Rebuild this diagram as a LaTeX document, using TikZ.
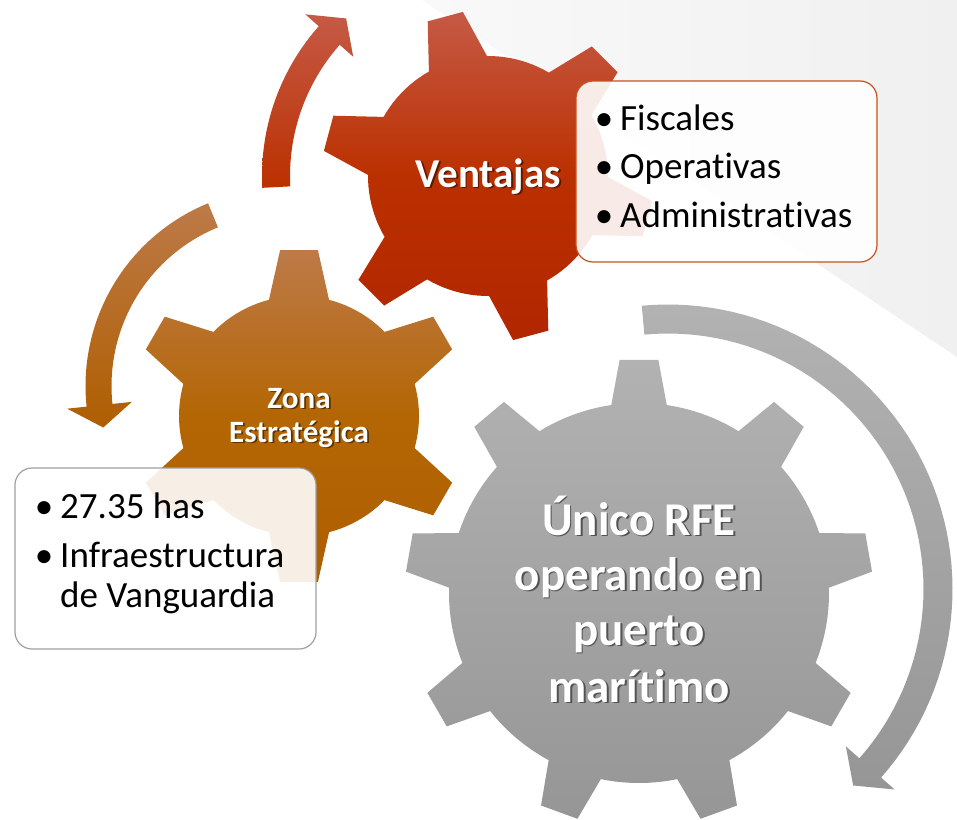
\documentclass[tikz,border=0pt]{standalone}
\usepackage{fontspec}
\setmainfont{Carlito}[Ligatures=NoCommon]
\definecolor{redtop}{RGB}{197,90,70}
\definecolor{redmid}{RGB}{187,48,0}
\definecolor{redbot}{RGB}{178,38,0}
\definecolor{ortop}{RGB}{189,122,72}
\definecolor{ormid}{RGB}{180,102,4}
\definecolor{orbot}{RGB}{175,94,0}
\definecolor{grtop}{RGB}{178,178,178}
\definecolor{grmid}{RGB}{164,164,164}
\definecolor{grbot}{RGB}{150,150,150}
\definecolor{boxred}{RGB}{200,80,30}
\definecolor{boxgray}{RGB}{160,160,160}
\definecolor{bgl}{RGB}{249,249,249}
\definecolor{bgr}{RGB}{240,240,240}
% gear outline: #1 teeth, #2 first tooth angle, #3 outer radius, #4 body radius, #5 tip half angle, #6 base half angle
\newcommand{\gearoutline}[6]{%
  ({#2-#6}:#4)
  \foreach \k in {1,...,#1} {
    -- ({#2+(\k-1)*360/#1-#5}:#3)
    -- ({#2+(\k-1)*360/#1+#5}:#3)
    -- ({#2+(\k-1)*360/#1+#6}:#4)
    -- plot[domain={#2+(\k-1)*360/#1+#6}:{#2+\k*360/#1-#6},samples=12] (\x:#4)
  } -- cycle}
% circular arrow: #1 mid radius, #2 half band, #3 start angle, #4 end angle, #5 tip offset, #6 half head
\newcommand{\circarrow}[6]{%
  plot[domain={#3}:{#4},samples=60] (\x:{#1+#2})
  -- ({#4}:{#1+#6}) -- ({#4+#5}:#1) -- ({#4}:{#1-#6})
  -- plot[domain={#4}:{#3},samples=60] (\x:{#1-#2}) -- cycle}
% text with a drop shadow
\newcommand{\shtext}[2]{\rlap{\kern1.8pt\raisebox{-1.8pt}{\textcolor{#1}{#2}}}#2}
\begin{document}
\begin{tikzpicture}[x=1pt,y=-1pt,
  btext/.style={inner sep=0pt, font=\fontsize{37}{41}\selectfont, text=black},
  gtext/.style={inner sep=0pt, text=white, anchor=base},
  boxnode/.style={draw, line width=1.2pt, fill=white, fill opacity=0.9, rounded corners=17pt, inner sep=0pt}]
\useasboundingbox (0,0) rectangle (957,819);
\fill[white] (0,0) rectangle (957,819);
% background shape
\shade[left color=bgl, right color=bgr] (422,0) -- (957,0) -- (957,357) -- cycle;
% arrows
\begin{scope}[shift={(488,176)}]
  \shade[top color=redtop, bottom color=redmid] \circarrow{212}{14}{177}{221.5}{6.5}{32};
\end{scope}
\begin{scope}[shift={(283,386)}]
  \shade[top color=ortop, bottom color=orbot] \circarrow{184.5}{13}{247.7}{174}{-7}{32.5};
\end{scope}
\begin{scope}[shift={(668,589)}]
  \shade[top color=grtop, bottom color=grbot] \circarrow{270}{14.5}{-95.3}{41.5}{5.2}{32.5};
\end{scope}
% gears
\begin{scope}[shift={(639,593)}]
  \shade[top color=grtop, bottom color=grbot, middle color=grmid] \gearoutline{9}{-90}{234}{190}{4.75}{8.4};
\end{scope}
\begin{scope}[shift={(299,416)}]
  \shade[top color=ortop, bottom color=orbot, middle color=ormid] \gearoutline{6}{-90}{167}{120}{6.5}{14.5};
\end{scope}
\begin{scope}[shift={(488,176)}]
  \shade[top color=redtop, bottom color=redbot, middle color=redmid] \gearoutline{6}{-105}{166}{120}{6.3}{14.5};
\end{scope}
% boxes
\node[boxnode, draw=boxred, minimum width=301pt, minimum height=181pt] (rbox) at (726.5,171.5) {};
\node[boxnode, draw=boxgray, minimum width=301pt, minimum height=181pt] (lbox) at (165.5,558.5) {};
% box texts
\node[btext, anchor=base] (rb1) at (604,130) {•};
\node[btext, anchor=base west] (rt1) at (620,130) {Fiscales};
\node[btext, anchor=base] (rb2) at (604,178) {•};
\node[btext, anchor=base west] (rt2) at (620,178) {Operativas};
\node[btext, anchor=base] (rb3) at (604,227) {•};
\node[btext, anchor=base west] (rt3) at (620,227) {Administrativas};
\node[btext, anchor=base] (lb1) at (44,518) {•};
\node[btext, anchor=base west] (lt1) at (60,518) {27.35 has};
\node[btext, anchor=base] (lb2) at (44,567) {•};
\node[btext, anchor=base west] (lt2) at (60,567) {Infraestructura};
\node[btext, anchor=base west] (lt3) at (60,607) {de Vanguardia};
% gear texts
\node[gtext, font=\bfseries\fontsize{41}{48}\selectfont] (v) at (488,187) {\shtext{redmid!50!black}{Ventajas}};
\node[gtext, font=\bfseries\fontsize{31}{34}\selectfont] (z1) at (299,408) {\shtext{ormid!50!black}{Zona}};
\node[gtext, font=\bfseries\fontsize{31}{34}\selectfont] (z2) at (299,442) {\shtext{ormid!50!black}{Estratégica}};
\node[gtext, font=\bfseries\fontsize{47}{55}\selectfont] (u1) at (639,535) {\shtext{grmid!50!black}{Único RFE}};
\node[gtext, font=\bfseries\fontsize{47}{55}\selectfont] (u2) at (639,590) {\shtext{grmid!50!black}{operando en}};
\node[gtext, font=\bfseries\fontsize{47}{55}\selectfont] (u3) at (639,645) {\shtext{grmid!50!black}{puerto}};
\node[gtext, font=\bfseries\fontsize{47}{55}\selectfont] (u4) at (639,702) {\shtext{grmid!50!black}{marítimo}};
\end{tikzpicture}
\end{document}
